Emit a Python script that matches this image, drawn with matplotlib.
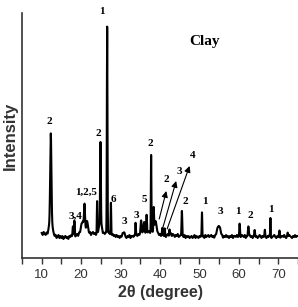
import numpy as np
import matplotlib
matplotlib.use("Agg")
import matplotlib.pyplot as plt
from matplotlib.ticker import MultipleLocator

# ---- data ----
base_x = np.arange(10, 75.001, 0.25)
base_y = [25, 23, 26, 24, 23, 25, 22, 24, 24, 22, 25, 23, 22, 21, 23, 20, 21, 23, 20, 22,
          20, 22, 19, 21, 22, 20, 21, 19, 22, 21, 23, 21, 22, 24, 21, 23, 24, 22, 25, 23,
          25, 23, 26, 24, 26, 24, 27, 25, 24, 26, 23, 25, 26, 24, 25, 23, 25, 24, 26, 24,
          24, 26, 23, 25, 24, 26, 24, 25, 26, 24, 25, 23, 24, 22, 23, 21, 23, 21, 22, 20,
          22, 21, 23, 20, 22, 21, 20, 22, 21, 23, 20, 22, 22, 21, 23, 22, 23, 22, 24, 23,
          24, 26, 25, 27, 26, 24, 27, 25, 26, 27, 25, 28, 27, 25, 26, 28, 26, 24, 25, 23,
          24, 22, 25, 23, 22, 24, 21, 23, 24, 22, 23, 25, 22, 24, 23, 21, 23, 22, 24, 21,
          22, 23, 21, 22, 21, 23, 20, 22, 21, 22, 20, 21, 22, 20, 21, 23, 20, 22, 21, 20,
          22, 21, 23, 21, 22, 20, 23, 21, 22, 23, 21, 22, 23, 21, 22, 20, 22, 21, 23, 22,
          22, 23, 21, 22, 20, 22, 21, 23, 21, 22, 20, 22, 21, 23, 20, 22, 22, 21, 23, 21,
          22, 20, 21, 23, 22, 21, 23, 20, 22, 21, 22, 23, 21, 22, 20, 22, 23, 21, 22, 20,
          21, 23, 22, 20, 22, 21, 23, 21, 20, 22, 21, 23, 22, 20, 21, 22, 23, 21, 20, 22,
          21, 23, 20, 22, 22, 21, 23, 21, 20, 22, 21, 23, 22, 21, 20, 22, 21, 23, 21, 22,
          22]

peak_pos = [12.3, 12.3, 17.9, 18.3, 20.3, 20.85, 21.5, 24.05, 24.9, 24.9, 26.6, 27.55,
            30.8, 33.8, 35.2, 36.0, 36.6, 37.75, 38.4, 38.9, 40.6, 41.2, 42.4, 45.55,
            50.65, 54.9, 60.2, 62.4, 64.0, 66.6, 68.0, 70.3, 72.4]
peak_height = [88, 14, 10, 14, 12, 26, 10, 32, 82, 10, 207, 31,
               5, 13, 12, 10, 17, 76, 24, 10, 6, 6, 6, 26,
               24, 10, 14, 10, 5, 6, 18, 5, 4]
peak_width = [0.35, 1.0, 0.2, 0.2, 0.8, 0.3, 0.6, 0.15, 0.22, 0.8, 0.18, 0.15,
              0.5, 0.15, 0.3, 0.3, 0.2, 0.15, 0.2, 0.6, 0.15, 0.15, 0.15, 0.2,
              0.15, 1.0, 0.2, 0.25, 0.2, 0.15, 0.12, 0.2, 0.2]

# (text, x, y)
labels = [("2", 11.95, 136), ("3,4", 18.6, 42), ("1,2,5", 21.3, 66), ("2", 24.25, 125),
          ("1", 25.3, 247), ("6", 28.2, 58), ("3", 30.9, 37), ("3", 34.0, 42),
          ("5", 36.0, 59), ("2", 37.5, 115), ("2", 41.5, 79), ("3", 44.9, 86),
          ("4", 48.4, 103), ("2", 46.4, 57), ("1", 51.5, 56), ("3", 55.2, 47),
          ("1", 59.75, 47), ("2", 63.0, 43), ("1", 68.05, 49)]

# arrows: start x, start y, end x, end y
arrow_x0 = [39.8, 40.7, 41.8]
arrow_y0 = [39, 30, 29]
arrow_x1 = [41.6, 44.1, 47.5]
arrow_y1 = [67, 77, 92]

x_ticks = [10, 20, 30, 40, 50, 60, 70]

# ---- build trace ----
x = np.arange(10, 75.001, 0.02)
y = np.interp(x, base_x, base_y)
for p, h, w in zip(peak_pos, peak_height, peak_width):
    s = w / 2.3548
    y = y + h * np.exp(-0.5 * ((x - p) / s) ** 2)

fig = plt.figure(figsize=(2.98, 3.07), dpi=100)
ax = fig.add_axes([22 / 298, 49 / 307, 276 / 298, 245 / 307])
ax.plot(x, y, color="black", lw=1.5)
ax.set_xlim(5, 75)
ax.set_ylim(0, 245)

for s in ["top", "right"]:
    ax.spines[s].set_visible(False)
for s in ["left", "bottom"]:
    ax.spines[s].set_color("#333333")
    ax.spines[s].set_linewidth(1.2)

ax.set_yticks([])
ax.set_xticks(x_ticks)
ax.xaxis.set_minor_locator(MultipleLocator(5))
ax.tick_params(axis="x", which="both", direction="out", length=4, width=1.0,
               color="#333333", labelsize=9.5, labelcolor="#333333", pad=4)
for t in ax.get_xticklabels():
    t.set_fontfamily("Liberation Sans")

ax.set_xlabel("2θ (degree)", fontsize=11.5, fontweight="bold", family="Liberation Sans",
              color="#333333", labelpad=3)
ax.set_ylabel("Intensity", fontsize=12, fontweight="bold", family="Liberation Sans",
              color="#333333", labelpad=3)

for t, lx, ly in labels:
    ax.text(lx, ly, t, ha="center", va="center", fontsize=8, fontweight="bold",
            family="Liberation Serif", clip_on=False)

ax.text(51.3, 216, "Clay", ha="center", va="center", fontsize=11, fontweight="bold",
        family="Liberation Serif")

for a, b, c, d in zip(arrow_x0, arrow_y0, arrow_x1, arrow_y1):
    ax.annotate("", xy=(c, d), xytext=(a, b),
                arrowprops=dict(arrowstyle="-|>", color="black", lw=0.8,
                                mutation_scale=9, shrinkA=0, shrinkB=0))

fig.savefig("out.png", dpi=100)
